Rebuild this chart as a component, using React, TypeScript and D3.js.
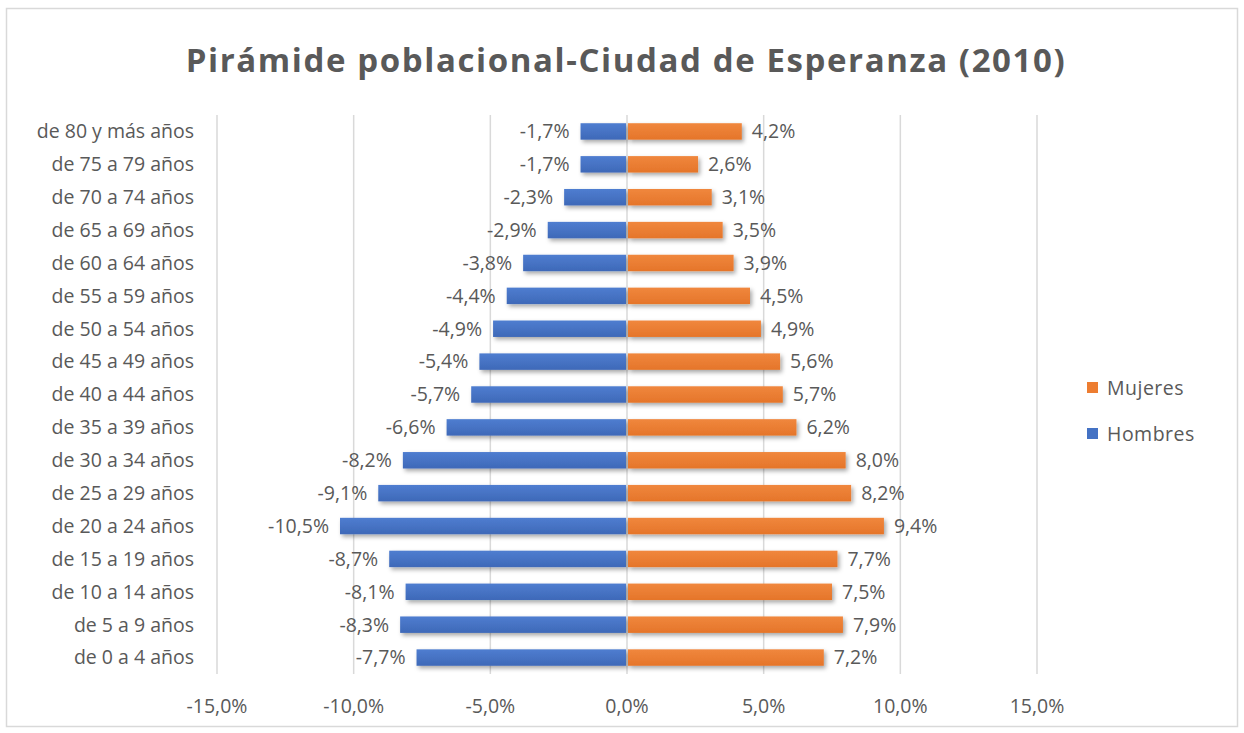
import React from "react";
import * as d3 from "d3";

const categories = [
  "de 80 y más años", "de 75 a 79 años", "de 70 a 74 años", "de 65 a 69 años",
  "de 60 a 64 años", "de 55 a 59 años", "de 50 a 54 años", "de 45 a 49 años",
  "de 40 a 44 años", "de 35 a 39 años", "de 30 a 34 años", "de 25 a 29 años",
  "de 20 a 24 años", "de 15 a 19 años", "de 10 a 14 años", "de 5 a 9 años",
  "de 0 a 4 años",
];
const hombres = [-1.7, -1.7, -2.3, -2.9, -3.8, -4.4, -4.9, -5.4, -5.7, -6.6, -8.2, -9.1, -10.5, -8.7, -8.1, -8.3, -7.7];
const mujeres = [4.2, 2.6, 3.1, 3.5, 3.9, 4.5, 4.9, 5.6, 5.7, 6.2, 8.0, 8.2, 9.4, 7.7, 7.5, 7.9, 7.2];
const ticks = [-15, -10, -5, 0, 5, 10, 15];
const title = "Pirámide poblacional-Ciudad de Esperanza (2010)";
const seriesNames = ["Mujeres", "Hombres"];

const W = 1244, H = 733;
const FONT = "'Open Sans', 'Noto Sans', sans-serif";
const TXT = "#595959";
const BLUE = "#4472C4";
const ORANGE = "#ED7D31";
const FS = 19.5;

const fmt = (v: number) => v.toFixed(1).replace(".", ",") + "%";

export default function App() {
  const x = d3.scaleLinear().domain([-15, 15]).range([217, 1037]);
  const y = d3.scaleBand<string>().domain(categories).range([115, 674]).paddingInner(0.5).paddingOuter(0.25);
  const bw = y.bandwidth();
  return (
    <svg width={W} height={H} style={{ position: "absolute", left: 0, top: 0 }} fontFamily={FONT}>
      <defs>
        <filter id="sh" x="-10%" y="-30%" width="120%" height="180%">
          <feDropShadow dx="2" dy="2.5" stdDeviation="2" floodColor="#000" floodOpacity="0.35" />
        </filter>
        <linearGradient id="gb" x1="0" y1="0" x2="0" y2="1">
          <stop offset="0" stopColor="#4f7dd0" />
          <stop offset="1" stopColor="#3e69b8" />
        </linearGradient>
        <linearGradient id="go" x1="0" y1="0" x2="0" y2="1">
          <stop offset="0" stopColor="#f0873d" />
          <stop offset="1" stopColor="#e5752a" />
        </linearGradient>
      </defs>
      <rect x={0} y={0} width={W} height={H} fill="#fff" />
      <rect x={6.5} y={8.5} width={1231} height={718} fill="none" stroke="#d9d9d9" strokeWidth={1.5} />
      <text x={626} y={72} textAnchor="middle" fontSize={33} letterSpacing={1.6} fontWeight="bold" fill={TXT}>{title}</text>
      {ticks.map((t) => (
        <g key={t}>
          <line x1={x(t)} x2={x(t)} y1={115} y2={674} stroke="#d9d9d9" strokeWidth={1.5} />
          <text x={x(t)} y={713} textAnchor="middle" fontSize={FS} fill={TXT}>{fmt(t)}</text>
        </g>
      ))}
      {categories.map((c, i) => {
        const yc = (y(c) as number) + bw / 2;
        return (
          <g key={c}>
            <text x={194} y={yc} dy="0.35em" textAnchor="end" fontSize={FS} fill={TXT}>{c}</text>
            <rect x={x(hombres[i])} y={y(c)} width={x(0) - 1 - x(hombres[i])} height={bw} fill="url(#gb)" filter="url(#sh)" />
            <rect x={x(0) + 1} y={y(c)} width={x(mujeres[i]) - x(0) - 1} height={bw} fill="url(#go)" filter="url(#sh)" />
            <text x={x(hombres[i]) - 11} y={yc} dy="0.35em" textAnchor="end" fontSize={FS} fill={TXT}>{fmt(hombres[i])}</text>
            <text x={x(mujeres[i]) + 10} y={yc} dy="0.35em" textAnchor="start" fontSize={FS} fill={TXT}>{fmt(mujeres[i])}</text>
          </g>
        );
      })}
      {seriesNames.map((s, i) => (
        <g key={s}>
          <rect x={1087} y={382 + i * 46} width={11} height={11} fill={i === 0 ? ORANGE : BLUE} />
          <text x={1107} y={388 + i * 46} dy="0.35em" fontSize={FS} letterSpacing={0.5} fill={TXT}>{s}</text>
        </g>
      ))}
    </svg>
  );
}
